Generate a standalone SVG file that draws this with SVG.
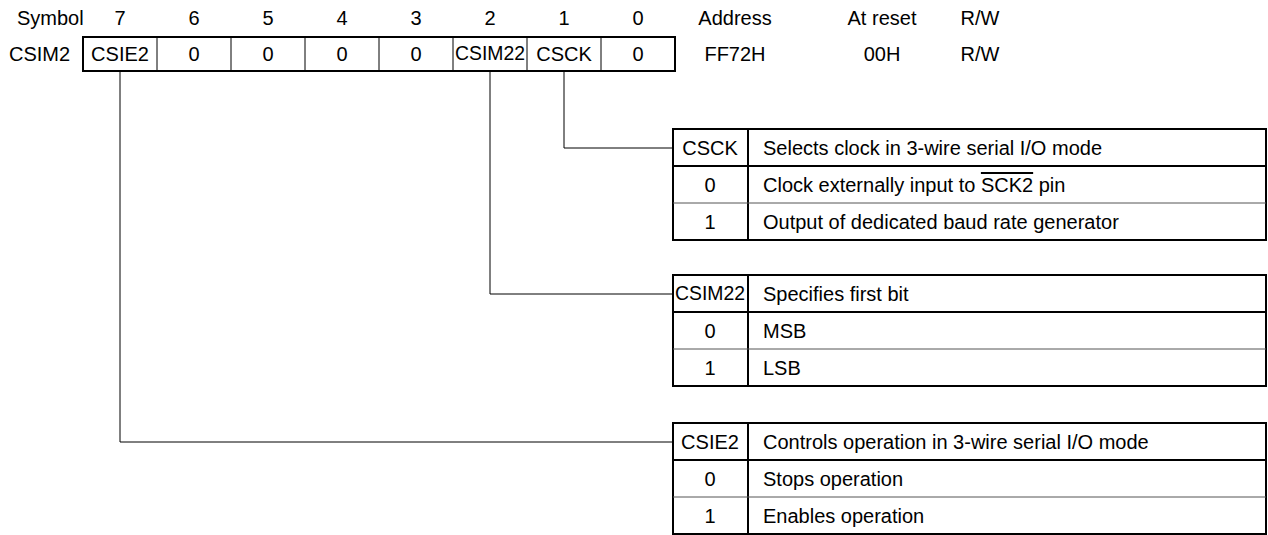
<svg xmlns="http://www.w3.org/2000/svg" width="1268" height="535" viewBox="0 0 1268 535">
<style>
text{font-family:"Liberation Sans",Arial,sans-serif;font-size:20px;fill:#000}
.c{text-anchor:middle}
.thin{stroke:#000;stroke-width:1;fill:none}
.thick{stroke:#000;stroke-width:2;fill:none}
.gray{stroke:#555;stroke-width:1;fill:none}
</style>
<rect width="1268" height="535" fill="#fff"/>
<g id="header">
<text x="17" y="25">Symbol</text>
<text class="c" x="120" y="25">7</text>
<text class="c" x="194" y="25">6</text>
<text class="c" x="268" y="25">5</text>
<text class="c" x="342" y="25">4</text>
<text class="c" x="416" y="25">3</text>
<text class="c" x="490" y="25">2</text>
<text class="c" x="564" y="25">1</text>
<text class="c" x="638" y="25">0</text>
<text class="c" x="735" y="25">Address</text>
<text class="c" x="882" y="25">At reset</text>
<text class="c" x="980" y="25">R/W</text>
</g>
<g id="register">
<text x="9" y="61">CSIM2</text>
<rect class="thick" x="83" y="37" width="592" height="34"/>
<path class="thin" d="M157 37V71M231 37V71M305 37V71M379 37V71M453 37V71M527 37V71M601 37V71"/>
<text class="c" x="120" y="61">CSIE2</text>
<text class="c" x="194" y="61">0</text>
<text class="c" x="268" y="61">0</text>
<text class="c" x="342" y="61">0</text>
<text class="c" x="416" y="61">0</text>
<text class="c" x="490" y="60" font-size="16" textLength="70" lengthAdjust="spacingAndGlyphs">CSIM22</text>
<text class="c" x="564" y="61">CSCK</text>
<text class="c" x="638" y="61">0</text>
<text class="c" x="735" y="61">FF72H</text>
<text class="c" x="882" y="61">00H</text>
<text class="c" x="980" y="61">R/W</text>
</g>
<g id="connectors">
<path class="thin" d="M564 71V148H673"/>
<path class="thin" d="M490 71V294H673"/>
<path class="thin" d="M120 71V442H673"/>
</g>
<g id="table-csck">
<rect class="thick" x="673" y="129" width="593" height="111"/>
<path class="thick" d="M748 129V240M673 166H1266"/>
<path class="gray" d="M673 203H1266"/>
<text class="c" x="710" y="155">CSCK</text>
<text x="763" y="155">Selects clock in 3-wire serial I/O mode</text>
<text class="c" x="710" y="192">0</text>
<text x="763" y="192">Clock externally input to <tspan text-decoration="overline">SCK2</tspan> pin</text>
<text class="c" x="710" y="229">1</text>
<text x="763" y="229">Output of dedicated baud rate generator</text>
</g>
<g id="table-csim22">
<rect class="thick" x="673" y="275" width="593" height="111"/>
<path class="thick" d="M748 275V386M673 312H1266"/>
<path class="gray" d="M673 349H1266"/>
<text class="c" x="710" y="300" font-size="16" textLength="70" lengthAdjust="spacingAndGlyphs">CSIM22</text>
<text x="763" y="301">Specifies first bit</text>
<text class="c" x="710" y="338">0</text>
<text x="763" y="338">MSB</text>
<text class="c" x="710" y="375">1</text>
<text x="763" y="375">LSB</text>
</g>
<g id="table-csie2">
<rect class="thick" x="673" y="423" width="593" height="111"/>
<path class="thick" d="M748 423V534M673 460H1266"/>
<path class="gray" d="M673 497H1266"/>
<text class="c" x="710" y="449">CSIE2</text>
<text x="763" y="449">Controls operation in 3-wire serial I/O mode</text>
<text class="c" x="710" y="486">0</text>
<text x="763" y="486">Stops operation</text>
<text class="c" x="710" y="523">1</text>
<text x="763" y="523">Enables operation</text>
</g>
</svg>
